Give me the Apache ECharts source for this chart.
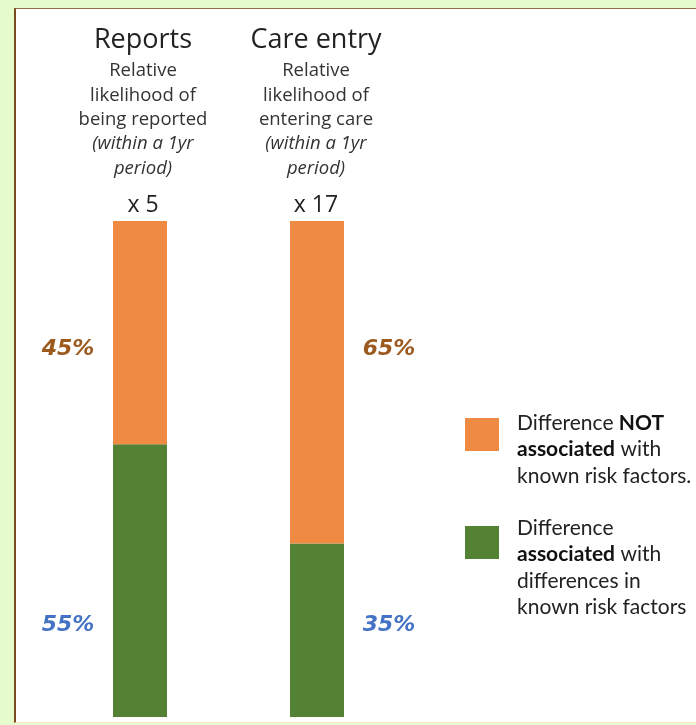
<!DOCTYPE html>
<html>
<head>
<meta charset="utf-8">
<script src="https://cdn.jsdelivr.net/npm/echarts@6/dist/echarts.min.js"></script>
<style>
html, body { margin: 0; padding: 0; background: #e7fccd; overflow: hidden; }
#panel {
    position: absolute; left: 14px; top: 8px; width: 700px; height: 713px;
    background: #fff; border-left: 2px solid #7b4a1e; border-top: 1px solid #9a6a40;
    border-bottom: 1px solid #fbe6cf;
}
#chart { position: absolute; left: 0; top: 0; width: 696px; height: 725px; }
</style>
</head>
<body>
<div id="panel"></div>
<div id="chart"></div>
<script>
const columns = ['Reports', 'Care entry']
const subtitles = [
    ['Relative', 'likelihood of', 'being reported'],
    ['Relative', 'likelihood of', 'entering care'],
]
const periodNote = ['(within a 1yr', 'period)']
const multipliers = [5, 17]
const notAssociated = [45, 65]
const associated = [55, 35]
const seriesNames = ['Not associated', 'Associated']

const ORANGE = '#ef8a43'
const GREEN = '#548235'
const chart = echarts.init(document.getElementById('chart'))

// header text above each bar
const titleCenters = [143, 316]
const titles = columns.map((c, i) => {
    const lines = ['{h|' + c + '}']
    subtitles[i].forEach(s => lines.push('{s|' + s + '}'))
    periodNote.forEach(s => lines.push('{i|' + s + '}'))
    lines.push('{x|x ' + multipliers[i] + '}')
    return {
        text: lines.join('\n'),
        left: titleCenters[i],
        top: 21,
        padding: 0,
        textAlign: 'center',
        textStyle: {
            fontWeight: 'normal',
            rich: {
                h: { fontFamily: 'Open Sans', fontSize: 27, fontWeight: 'normal', color: '#222', lineHeight: 38 },
                s: { fontFamily: 'Open Sans', fontSize: 18.5, fontWeight: 'normal', color: '#333', lineHeight: 24.3 },
                i: { fontFamily: 'Open Sans', fontSize: 18.5, fontWeight: 'normal', fontStyle: 'italic', color: '#333', lineHeight: 24.3 },
                x: { fontFamily: 'Open Sans', fontSize: 23, fontWeight: 'normal', color: '#222', lineHeight: 50 },
            },
        },
    }
})

const legendText = {
    'Not associated': '{r|Difference }{b|NOT}\n{b|associated}{r| with}\n{r|known risk factors.}',
    Associated: '{r|Difference}\n{b|associated}{r| with}\n{r|differences in}\n{r|known risk factors}',
}

const pctLabel = (color, dx, dy) => ({
    show: true,
    offset: [dx, dy],
    formatter: '{c}%',
    fontFamily: 'DejaVu Sans',
    fontWeight: 'bold',
    fontStyle: 'italic',
    fontSize: 22,
    color,
})

const option = {
    title: titles,
    grid: { left: 51.5, right: 290.5, top: 221, bottom: 8 },
    xAxis: { type: 'category', data: columns, show: false },
    yAxis: { type: 'value', min: 0, max: 100, show: false },
    legend: {
        orient: 'vertical',
        left: 465,
        top: 379.75,
        padding: 0,
        itemWidth: 34,
        itemHeight: 33,
        itemGap: -25,
        icon: 'rect',
        formatter: name => legendText[name],
        textStyle: {
            fontFamily: 'Lato',
            fontSize: 21,
            color: '#222',
            lineHeight: 26.5,
            rich: {
                r: { fontFamily: 'Lato', fontSize: 21, color: '#222', lineHeight: 26.5 },
                b: { fontFamily: 'Lato', fontSize: 21, fontWeight: 'bold', color: '#111', lineHeight: 26.5 },
            },
        },
        data: [
            { name: seriesNames[0], textStyle: { padding: [30, 0, 0, 13] } },
            { name: seriesNames[1], textStyle: { padding: [50.5, 0, 0, 13] } },
        ],
    },
    series: [
        {
            name: seriesNames[1],
            type: 'bar',
            stack: 'total',
            barWidth: 54,
            itemStyle: { color: GREEN },
            label: { position: 'insideBottom' },
            data: associated.map((v, i) => ({
                value: v,
                label: pctLabel('#4472c4', i === 0 ? -72 : 72, -76),
            })),
        },
        {
            name: seriesNames[0],
            type: 'bar',
            stack: 'total',
            barWidth: 54,
            itemStyle: { color: ORANGE },
            label: { position: 'insideTop' },
            data: notAssociated.map((v, i) => ({
                value: v,
                label: pctLabel('#9c5a1f', i === 0 ? -72 : 72, 112),
            })),
        },
    ],
}
chart.setOption(option)
</script>
</body>
</html>
